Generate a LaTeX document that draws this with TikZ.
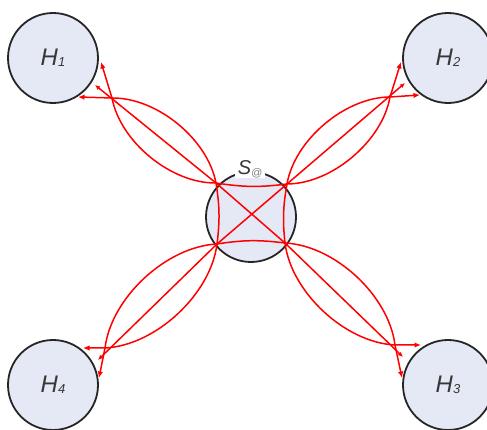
\documentclass[tikz,border=0pt]{standalone}
\usepackage{fontspec}
\setmainfont{Liberation Sans}
\usetikzlibrary{arrows.meta}
\definecolor{nodefill}{RGB}{228,233,245}
\definecolor{txtgray}{RGB}{55,55,55}
\newcommand{\hlab}[1]{H\raisebox{-1pt}{\fontsize{13}{13}\selectfont #1}}
\begin{document}
\begin{tikzpicture}[x=1pt,y=1pt,
  host/.style={circle,draw=black!85,line width=1.8pt,fill=nodefill,minimum size=90pt,inner sep=0pt,
    font=\fontsize{24}{24}\selectfont\itshape,text=txtgray},
  link/.style={draw=red,line width=1.5pt,line join=round},
  arr/.style={link,-{Latex[length=6.5pt,width=5.5pt]}},
  smallarr/.style={link,-{Latex[length=5pt,width=4.5pt]}},
  lens/.style={looseness=0.85},
  slabel/.style={fill=white,inner xsep=3pt,inner ysep=0pt,font=\fontsize{20}{20}\selectfont\itshape,text=txtgray}
]
\useasboundingbox (0,0) rectangle (487,430);
% hosts
\node[host] (H1) at (53,372) {\hlab{1}};
\node[host] (H2) at (448,372) {\hlab{2}};
\node[host] (H3) at (448,45) {\hlab{3}};
\node[host] (H4) at (53,45) {\hlab{4}};
\node[host] (S) at (251,213) {};
\node[slabel] (Sl) at (250,261) {S\raisebox{-2pt}{\textcolor{gray}{\fontsize{11}{11}\selectfont @}}};
% square corners
\coordinate (C1) at (216,247);
\coordinate (C2) at (287,246);
\coordinate (C3) at (285,187);
\coordinate (C4) at (217,186);
% crossings
\coordinate (X1) at (112,332);
\coordinate (X2) at (390,333);
\coordinate (X3) at (395,85);
\coordinate (X4) at (105,82);
% tips
\coordinate (T1u) at (101,368);
\coordinate (T1m) at (95,345);
\coordinate (T1l) at (78,333);
\coordinate (T2u) at (401,368);
\coordinate (T2m) at (405,347);
\coordinate (T2r) at (420,335);
\coordinate (T3r) at (421,85);
\coordinate (T3m) at (403,73);
\coordinate (T3d) at (402,52);
\coordinate (T4l) at (83,82);
\coordinate (T4m) at (98,70);
\coordinate (T4d) at (99,52);
% inner square and diagonals
\draw[link] (C1) to[bend right=8] (C2) to[bend right=8] (C3) to[bend right=8] (C4) to[bend right=8] cycle;
\draw[link] (C1) -- (C3);
\draw[link] (C2) -- (C4);
% lens to H1
\draw[arr] (C1) to[bend right=40,lens] (X1) -- (T1l);
\draw[arr] (C1) to[bend left=40,lens] (X1) -- (T1u);
\draw[smallarr] (C1) -- (T1m);
% lens to H2
\draw[arr] (C2) to[bend left=40,lens] (X2) -- (T2r);
\draw[arr] (C2) to[bend right=40,lens] (X2) -- (T2u);
\draw[smallarr] (C2) -- (T2m);
% lens to H3
\draw[arr] (C3) to[bend left=40,lens] (X3) -- (T3d);
\draw[arr] (C3) to[bend right=40,lens] (X3) -- (T3r);
\draw[smallarr] (C3) -- (T3m);
% lens to H4
\draw[arr] (C4) to[bend left=40,lens] (X4) -- (T4l);
\draw[arr] (C4) to[bend right=40,lens] (X4) -- (T4d);
\draw[smallarr] (C4) -- (T4m);
\end{tikzpicture}
\end{document}
